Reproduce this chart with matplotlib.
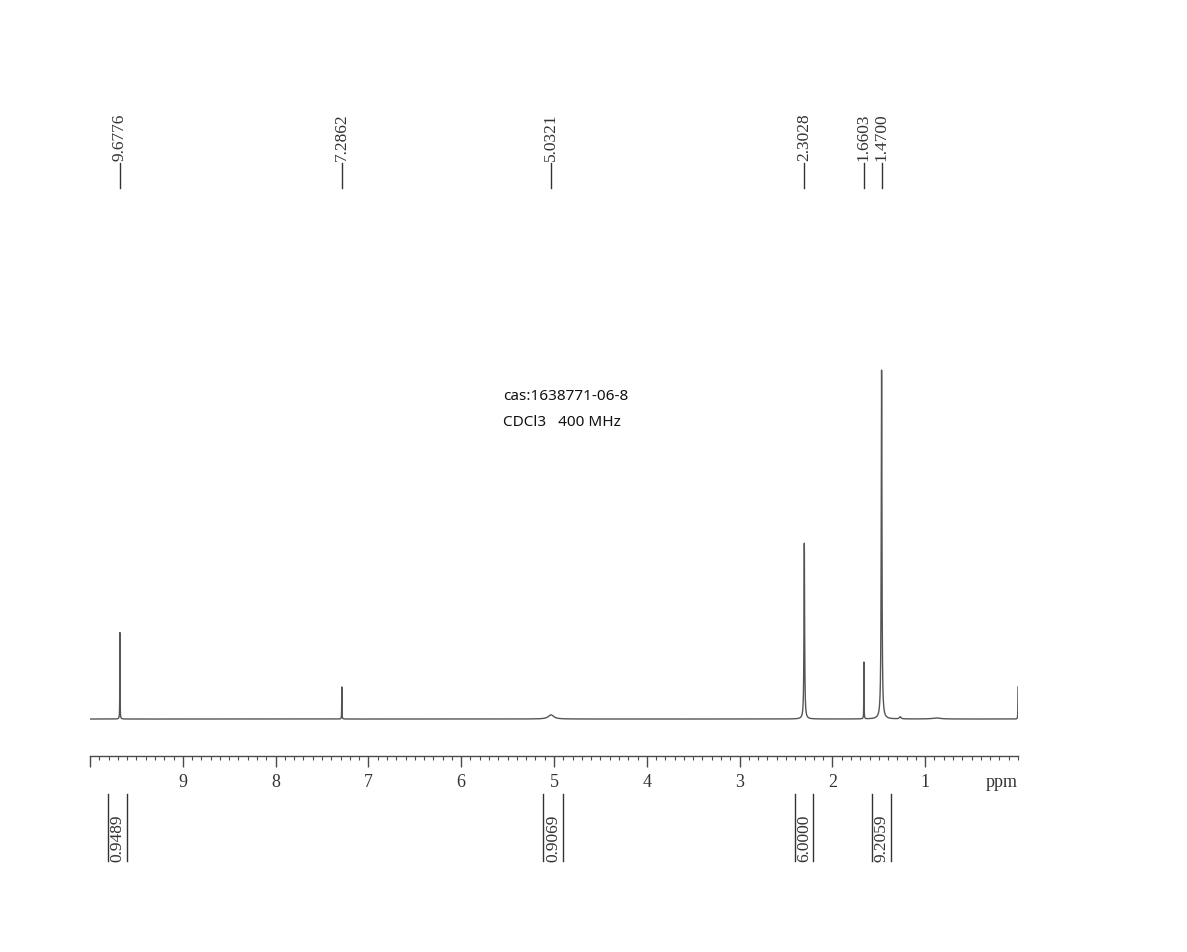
import numpy as np
import matplotlib.pyplot as plt
from matplotlib.transforms import blended_transform_factory
from matplotlib.ticker import MultipleLocator

# peaks (ppm, relative height, half width in ppm)
peak_ppm = [9.6776, 7.2862, 5.0321, 2.3028, 1.6603, 1.4700, 1.27, 0.88, 0.0]
peak_height = [24.9, 9.2, 1.2, 50.4, 16.3, 100.0, 0.6, 0.3, 9.2]
peak_width = [0.0015, 0.0015, 0.035, 0.004, 0.0015, 0.0045, 0.01, 0.05, 0.0015]

label_ppm = ["9.6776", "7.2862", "5.0321", "2.3028", "1.6603", "1.4700"]

integral_from = [9.806, 5.119, 2.403, 1.573]
integral_to = [9.601, 4.903, 2.209, 1.369]
integral_value = ["0.9489", "0.9069", "6.0000", "9.2059"]

serif = "Liberation Serif"
line_col = "#4a4a4a"

fig = plt.figure(figsize=(11.87, 9.53), dpi=100)
ax = fig.add_axes([90/1187, 1-757/953, 928/1187, 397/953])

ppm = np.linspace(10, 0, 40001)
spec = np.zeros_like(ppm)
for p, h, w in zip(peak_ppm, peak_height, peak_width):
    spec += h * w**2 / ((ppm - p)**2 + w**2)
ax.plot(ppm, spec, color="#555555", lw=1.0)

ax.set_xlim(10, 0)
ax.set_ylim(-10.6, 103.2)
for s in ["top", "left", "right"]:
    ax.spines[s].set_visible(False)
ax.spines["bottom"].set_color(line_col)
ax.spines["bottom"].set_linewidth(1.0)
ax.set_yticks([])
ax.set_xticks(range(1, 11))
ax.set_xticklabels([str(i) for i in range(1, 10)] + [""])
ax.xaxis.set_minor_locator(MultipleLocator(0.1))
ax.tick_params(axis="x", which="major", length=8, width=1, color=line_col,
               pad=4, labelsize=13, labelcolor="#333333")
ax.tick_params(axis="x", which="minor", length=3, width=0.8, color=line_col)
for t in ax.get_xticklabels():
    t.set_fontfamily(serif)
ax.text(0, -0.043, "ppm", transform=ax.get_xaxis_transform(), ha="right", va="top",
        fontsize=13, family=serif, color="#333333")

# peak labels on top
tr = blended_transform_factory(ax.transData, fig.transFigure)
for lab in label_ppm:
    x = float(lab)
    ax.text(x, 1-161/953, lab, transform=tr, rotation=90, ha="center", va="bottom",
            fontsize=12.5, family=serif, color="#333333", clip_on=False)
    ax.plot([x, x], [1-164/953, 1-189/953], transform=tr, color="#333333",
            lw=1.0, clip_on=False)

# integrals below the axis
for a, b, v in zip(integral_from, integral_to, integral_value):
    for x in (a, b):
        ax.plot([x, x], [1-795/953, 1-862/953], transform=tr, color="#333333",
                lw=1.0, clip_on=False)
    ax.text((a+b)/2, 1-862/953, v, transform=tr, rotation=90, ha="center", va="bottom",
            fontsize=12.5, family=serif, color="#333333", clip_on=False)

fig.text(503/1187, 1-397/953, "cas:1638771-06-8", ha="left", va="center",
         fontsize=11, family="Noto Sans", color="#111111")
fig.text(503/1187, 1-423/953, "CDCl3   400 MHz", ha="left", va="center",
         fontsize=11, family="Noto Sans", color="#111111")

fig.savefig("out.png", dpi=100)
